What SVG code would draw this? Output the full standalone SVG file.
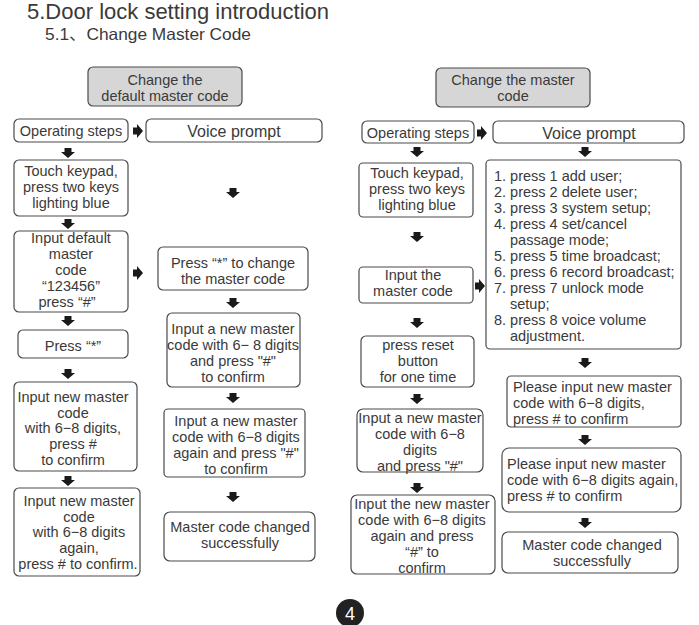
<svg xmlns="http://www.w3.org/2000/svg" xmlns:xlink="http://www.w3.org/1999/xlink" width="699" height="625" viewBox="0 0 699 625">
<style>
.b{fill:#fff;stroke:#4a4a4a;stroke-width:1.2}
.h{fill:#d6d6d6;stroke:#4a4a4a;stroke-width:1.2}
text{font-family:"Liberation Sans",Arial,"Noto Sans CJK SC",sans-serif;fill:#3a3a3a}
.t{font-size:14.5px;text-anchor:middle}
.l{font-size:14.5px}
.v{font-size:16px;text-anchor:middle}
.a{fill:#1a1a1a}
</style>
<defs>
<path id="ad" class="a" d="M-3.5,0H3.5V4H7L0,10L-7,4H-3.5Z"/>
<path id="ar" class="a" d="M0,-3.5H4V-7L10,0L4,7V3.5H0Z"/>
</defs>
<rect width="699" height="625" fill="#fff"/>
<text x="27" y="19" style="font-size:22px">5.Door lock setting introduction</text>
<text x="45" y="40" style="font-size:16.5px" textLength="206" lengthAdjust="spacingAndGlyphs">5.1、Change Master Code</text>

<g id="connectors">
<use href="#ar" x="133" y="131"/>
<use href="#ar" x="133" y="273"/>
<use href="#ad" x="68" y="148"/>
<use href="#ad" x="68" y="219"/>
<use href="#ad" x="233" y="188"/>
<use href="#ad" x="233" y="298"/>
<use href="#ad" x="68" y="316"/>
<use href="#ad" x="68" y="369"/>
<use href="#ad" x="233" y="393"/>
<use href="#ad" x="68" y="476"/>
<use href="#ad" x="233" y="492"/>
<use href="#ar" x="477" y="133"/>
<use href="#ad" x="417" y="147"/>
<use href="#ad" x="585" y="147"/>
<use href="#ad" x="417" y="232"/>
<use href="#ar" x="475" y="286"/>
<use href="#ad" x="417" y="318"/>
<use href="#ad" x="417" y="394"/>
<use href="#ad" x="417" y="483"/>
<use href="#ad" x="585" y="358"/>
<use href="#ad" x="585" y="435"/>
<use href="#ad" x="585" y="518"/>
</g>

<g id="L-header"><rect class="h" x="88" y="67" width="154" height="39" rx="5"/>
<text class="t" x="165" y="85">Change the</text><text class="t" x="165" y="101">default master code</text></g>
<g id="L-op"><rect class="b" x="14" y="119" width="114" height="23" rx="5"/><text class="t" x="71" y="136">Operating steps</text></g>
<g id="L-voice"><rect class="b" x="146" y="119" width="176" height="23" rx="5"/><text class="v" x="234" y="137">Voice prompt</text></g>
<g id="L-touch"><rect class="b" x="14" y="160" width="114" height="56" rx="5"/>
<text class="t" x="71" y="176">Touch keypad,</text><text class="t" x="71" y="192">press two keys</text><text class="t" x="71" y="208">lighting blue</text></g>
<g id="L-default"><rect class="b" x="14" y="231" width="114" height="81" rx="5"/>
<text class="t" x="71" y="243">Input default</text><text class="t" x="71" y="259">master</text><text class="t" x="71" y="275">code</text><text class="t" x="71" y="291">“123456”</text><text class="t" x="67" y="307">press “#”</text></g>
<g id="L-pressstar-v"><rect class="b" x="158" y="247" width="150" height="43" rx="5"/>
<text class="t" x="233" y="268">Press “*” to change</text><text class="t" x="233" y="284">the master code</text></g>
<g id="L-pressstar"><rect class="b" x="18" y="330" width="110" height="28" rx="5"/><text class="t" x="73" y="351">Press “*”</text></g>
<g id="L-newcode"><rect class="b" x="14" y="382" width="123" height="89" rx="5"/>
<text class="t" x="73" y="402">Input new master</text><text class="t" x="73" y="418">code</text><text class="t" x="73" y="433">with 6−8 digits,</text><text class="t" x="73" y="449">press #</text><text class="t" x="73" y="465">to confirm</text></g>
<g id="L-newcode-v"><rect class="b" x="167" y="313" width="133" height="74" rx="5"/>
<text class="t" x="233" y="334">Input a new master</text><text class="t" x="233" y="350">code with 6− 8 digits</text><text class="t" x="233" y="366">and press "#"</text><text class="t" x="233" y="382">to confirm</text></g>
<g id="L-again-v"><rect class="b" x="164" y="409" width="141" height="68" rx="4"/>
<text class="t" x="236" y="426">Input a new master</text><text class="t" x="236" y="442">code with 6−8 digits</text><text class="t" x="236" y="458">again and press "#"</text><text class="t" x="236" y="474">to confirm</text></g>
<g id="L-again"><rect class="b" x="14" y="488" width="126" height="88" rx="5"/>
<text class="t" x="79" y="506">Input new master</text><text class="t" x="79" y="522">code</text><text class="t" x="79" y="537">with 6−8 digits</text><text class="t" x="79" y="553">again,</text><text class="t" x="78" y="569">press # to confirm.</text></g>
<g id="L-done"><rect class="b" x="164" y="512" width="151" height="49" rx="6"/>
<text class="t" x="240" y="532">Master code changed</text><text class="t" x="240" y="548">successfully</text></g>

<g id="R-header"><rect class="h" x="436" y="68" width="154" height="39" rx="5"/>
<text class="t" x="513" y="85">Change the master</text><text class="t" x="513" y="101">code</text></g>
<g id="R-op"><rect class="b" x="362" y="121" width="112" height="22" rx="5"/><text class="t" x="418" y="138">Operating steps</text></g>
<g id="R-voice"><rect class="b" x="493" y="121" width="191" height="22" rx="5"/><text class="v" x="589" y="139">Voice prompt</text></g>
<g id="R-touch"><rect class="b" x="359" y="163" width="114" height="54" rx="4"/>
<text class="t" x="417" y="178">Touch keypad,</text><text class="t" x="417" y="194">press two keys</text><text class="t" x="417" y="210">lighting blue</text></g>
<g id="R-menu"><rect class="b" x="486" y="160" width="195" height="189" rx="4"/>
<text class="l" x="494" y="181">1. press 1 add user;</text>
<text class="l" x="494" y="197">2. press 2 delete user;</text>
<text class="l" x="494" y="213">3. press 3 system setup;</text>
<text class="l" x="494" y="229">4. press 4 set/cancel</text>
<text class="l" x="510" y="245">passage mode;</text>
<text class="l" x="494" y="261">5. press 5 time broadcast;</text>
<text class="l" x="494" y="277">6. press 6 record broadcast;</text>
<text class="l" x="494" y="293">7. press 7 unlock mode</text>
<text class="l" x="510" y="309">setup;</text>
<text class="l" x="494" y="325">8. press 8 voice volume</text>
<text class="l" x="510" y="341">adjustment.</text></g>
<g id="R-input"><rect class="b" x="359" y="267" width="114" height="36" rx="4"/>
<text class="t" x="413" y="280">Input the</text><text class="t" x="413" y="296">master code</text></g>
<g id="R-reset"><rect class="b" x="361" y="336" width="113" height="51" rx="5"/>
<text class="t" x="418" y="350">press reset</text><text class="t" x="418" y="366">button</text><text class="t" x="418" y="382">for one time</text></g>
<g id="R-new"><rect class="b" x="357" y="409" width="126" height="63" rx="6"/>
<text class="t" x="420" y="423">Input a new master</text><text class="t" x="420" y="439">code with 6−8</text><text class="t" x="420" y="455">digits</text><text class="t" x="420" y="471">and press "#"</text></g>
<g id="R-again"><rect class="b" x="351" y="495" width="144" height="79" rx="6"/>
<text class="t" x="422" y="509">Input the new master</text><text class="t" x="422" y="525">code with 6−8 digits</text><text class="t" x="422" y="541">again and press</text><text class="t" x="422" y="557">“#”  to</text><text class="t" x="422" y="573">confirm</text></g>
<g id="R-new-v"><rect class="b" x="507" y="376" width="174" height="51" rx="4"/>
<text class="l" x="513" y="392">Please input new master</text><text class="l" x="513" y="408">code with 6−8 digits,</text><text class="l" x="513" y="424">press # to confirm</text></g>
<g id="R-again-v"><rect class="b" x="502" y="448" width="179" height="64" rx="7"/>
<text class="l" x="507" y="469">Please input new master</text><text class="l" x="507" y="485">code with 6−8 digits again,</text><text class="l" x="507" y="501">press # to confirm</text></g>
<g id="R-done"><rect class="b" x="502" y="532" width="176" height="41" rx="6"/>
<text class="t" x="592" y="550">Master code changed</text><text class="t" x="592" y="566">successfully</text></g>

<g id="page"><circle cx="350" cy="613" r="14" fill="#222"/><text x="350" y="620" style="font-size:18px;text-anchor:middle;fill:#fff">4</text></g>
</svg>
